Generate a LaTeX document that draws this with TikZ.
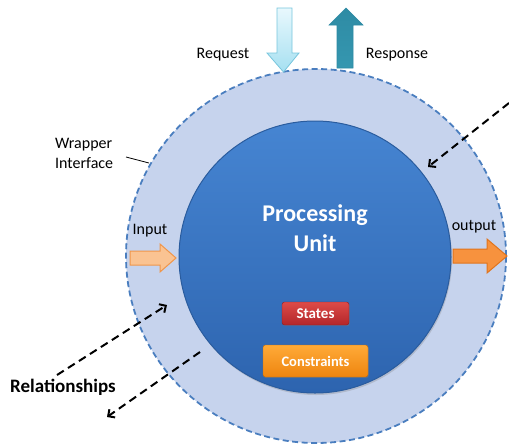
\documentclass[tikz,border=0pt]{standalone}
\usepackage{fontspec}
\setmainfont{Carlito}
\usetikzlibrary{arrows.meta,shadows,shapes.geometric}
\definecolor{ringfill}{HTML}{C6D3ED}
\definecolor{ringdraw}{HTML}{4A7EBF}
\definecolor{putop}{HTML}{4685D2}
\definecolor{pubot}{HTML}{2D64AF}
\definecolor{puedge}{HTML}{2A5C9E}
\definecolor{redtop}{HTML}{DD4B48}
\definecolor{redbot}{HTML}{B3262A}
\definecolor{reddraw}{HTML}{8E1C1E}
\definecolor{ortop}{HTML}{FFAA38}
\definecolor{orbot}{HTML}{EE850F}
\definecolor{ordraw}{HTML}{C46A08}
\definecolor{peach}{HTML}{FAC392}
\definecolor{peachdraw}{HTML}{F0964A}
\definecolor{outfill}{HTML}{F7923E}
\definecolor{outdraw}{HTML}{E0741C}
\definecolor{reqtop}{HTML}{E8F8FD}
\definecolor{reqbot}{HTML}{A6E0F1}
\definecolor{reqdraw}{HTML}{78C6DD}
\definecolor{restop}{HTML}{2E8BA4}
\definecolor{resbot}{HTML}{3597B0}
\tikzset{
  lbl/.style={font=\fontsize{16}{19}\selectfont, inner sep=0pt},
  rel/.style={draw=black, line width=2pt, dash pattern=on 8pt off 5pt, -{Straight Barb[length=5pt,width=10pt,line width=2pt]}},
  smallbox/.style={rounded corners=2.5pt, text=white, font=\bfseries\fontsize{15}{18}\selectfont, drop shadow={shadow xshift=0.8pt, shadow yshift=-1.2pt, opacity=0.35}},
}
\begin{document}
\begin{tikzpicture}[x=1pt,y=-1pt]
\useasboundingbox (0,0) rectangle (509,445);
% outer ring
\node (ring) [draw=ringdraw, fill=ringfill, line width=1.8pt, dash pattern=on 6pt off 3.5pt, ellipse, minimum width=380pt, minimum height=374pt, inner sep=0pt] at (316,256) {};
% inner unit
\node (pu) [circle, minimum size=272pt, inner sep=0pt, top color=putop, bottom color=pubot, draw=puedge, line width=1pt, drop shadow={shadow xshift=1pt, shadow yshift=-2pt, opacity=0.3}] at (315,257) {};
\node (putext) [text=white, font=\bfseries\fontsize{24}{30}\selectfont, align=center] at (315,228) {Processing\\Unit};
\node (states) [smallbox, top color=redtop, bottom color=redbot, draw=reddraw, minimum width=67pt, minimum height=23pt, inner sep=0pt] at (315.5,313.5) {States};
\node (constr) [smallbox, top color=ortop, bottom color=orbot, draw=ordraw, minimum width=105pt, minimum height=32pt, inner sep=0pt, font=\bfseries\fontsize{14.5}{18}\selectfont] at (315.5,361) {Constraints};
% request arrow (down)
\path[top color=reqtop, bottom color=reqbot, draw=reqdraw, line width=0.8pt]
  (277,8) -- (292,8) -- (292,53) -- (299,53) -- (283.5,72) -- (267,53) -- (277,53) -- cycle;
% response arrow (up)
\path[top color=restop, bottom color=resbot, draw=restop, line width=0.6pt]
  (337,68) -- (353,68) -- (353,25) -- (363,25) -- (346,8) -- (329,25) -- (337,25) -- cycle;
\node (req) [lbl] at (223,55) {Request};
\node (res) [lbl] at (397,55) {Response};
% wrapper interface label
\node (wrap) [lbl, anchor=west, align=left, font=\fontsize{16}{20}\selectfont] at (55,153) {Wrapper\\Interface};
\coordinate (wrapA) at (126,157);
\coordinate (wrapB) at (149,163);
\draw[black, line width=0.8pt] (wrapA) -- (wrapB);
% input arrow
\path[fill=peach, draw=peachdraw, line width=1pt]
  (130,251) -- (160,251) -- (160,244) -- (176,258) -- (160,272) -- (160,265) -- (130,265) -- cycle;
\node (inp) [lbl] at (150,231) {Input};
% output arrow
\path[fill=outfill, draw=outdraw, line width=1pt]
  (453,249) -- (487,249) -- (487,239) -- (507,256) -- (487,273) -- (487,263) -- (453,263) -- cycle;
\node (outp) [lbl] at (474,227) {output};
% relationships
\node (relat) [font=\bfseries\fontsize{19}{22}\selectfont, inner sep=0pt] at (63,387) {Relationships};
\coordinate (r1a) at (57,375);
\coordinate (r1b) at (167,305);
\coordinate (r2a) at (200,352);
\coordinate (r2b) at (107,417);
\coordinate (r3a) at (509,103);
\coordinate (r3b) at (428,167);
\draw[rel] (r1a) -- (r1b);
\draw[rel] (r2a) -- (r2b);
\draw[rel] (r3a) -- (r3b);
\end{tikzpicture}
\end{document}
